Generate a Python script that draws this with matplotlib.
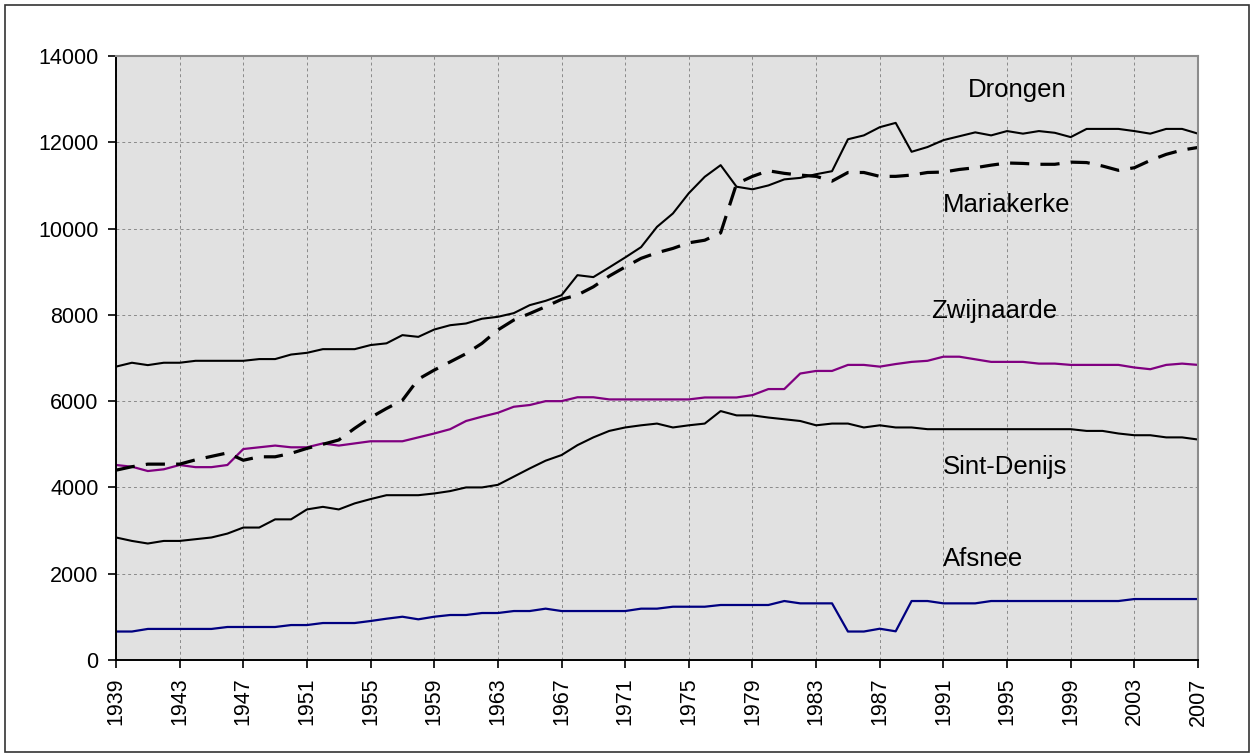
import matplotlib.pyplot as plt
from matplotlib.patches import Rectangle

plt.rcParams['font.family'] = ['Liberation Sans', 'DejaVu Sans']

years = list(range(1939, 2008))

drongen = [6800, 6890, 6835, 6890, 6890, 6935, 6935, 6935, 6935, 6975,
           6975, 7080, 7120, 7205, 7205, 7205, 7300, 7340, 7530, 7490,
           7660, 7760, 7800, 7910, 7955, 8040, 8225, 8325, 8455, 8920,
           8875, 9100, 9330, 9570, 10040, 10350, 10820, 11200, 11470, 10970,
           10910, 11000, 11140, 11175, 11260, 11330, 12070, 12160, 12350, 12450,
           11780, 11890, 12050, 12140, 12230, 12160, 12260, 12200, 12260, 12220,
           12120, 12310, 12310, 12310, 12260, 12200, 12310, 12310, 12200]

mariakerke = [4400, 4480, 4540, 4540, 4540, 4640, 4720, 4800, 4630, 4710,
              4710, 4790, 4905, 5000, 5100, 5370, 5620, 5830, 6020, 6510,
              6720, 6910, 7100, 7340, 7650, 7880, 8030, 8190, 8360, 8460,
              8650, 8900, 9110, 9310, 9440, 9540, 9670, 9730, 9900, 11040,
              11210, 11340, 11280, 11240, 11210, 11100, 11300, 11300, 11210, 11210,
              11240, 11300, 11310, 11370, 11410, 11470, 11520, 11510, 11490, 11490,
              11540, 11530, 11450, 11350, 11410, 11580, 11720, 11820, 11880]

zwijnaarde = [4520, 4480, 4380, 4420, 4520, 4470, 4470, 4520, 4890, 4930,
              4970, 4930, 4930, 5020, 4970, 5020, 5070, 5070, 5070, 5160,
              5250, 5350, 5540, 5640, 5730, 5870, 5910, 6000, 6000, 6090,
              6090, 6040, 6040, 6040, 6040, 6040, 6040, 6085, 6085, 6085,
              6140, 6280, 6280, 6640, 6700, 6700, 6840, 6840, 6800, 6860,
              6910, 6935, 7030, 7030, 6970, 6910, 6910, 6910, 6870, 6870,
              6840, 6840, 6840, 6840, 6780, 6740, 6840, 6870, 6840]

sint_denijs = [2840, 2760, 2700, 2760, 2760, 2800, 2840, 2930, 3070, 3070,
               3260, 3260, 3490, 3550, 3490, 3630, 3730, 3820, 3820, 3820,
               3860, 3915, 4000, 4000, 4060, 4250, 4440, 4620, 4750, 4980,
               5160, 5310, 5390, 5440, 5480, 5390, 5440, 5480, 5770, 5670,
               5670, 5620, 5580, 5540, 5440, 5480, 5480, 5390, 5440, 5390,
               5390, 5350, 5350, 5350, 5350, 5350, 5350, 5350, 5350, 5350,
               5350, 5310, 5310, 5250, 5210, 5210, 5160, 5160, 5110]

afsnee = [660, 660, 720, 720, 720, 720, 720, 765, 765, 765,
          765, 810, 810, 857, 857, 857, 904, 957, 1003, 943,
          1003, 1043, 1043, 1089, 1089, 1135, 1135, 1190, 1135, 1135,
          1135, 1135, 1135, 1190, 1190, 1235, 1235, 1235, 1275, 1275,
          1275, 1275, 1367, 1313, 1313, 1313, 660, 660, 725, 665,
          1367, 1367, 1313, 1313, 1313, 1367, 1367, 1367, 1367, 1367,
          1367, 1367, 1367, 1367, 1413, 1413, 1413, 1413, 1413]

x_ticks = list(range(1939, 2008, 4))
y_ticks = list(range(0, 14001, 2000))

fig = plt.figure(figsize=(12.57, 7.55), dpi=100)
ax = fig.add_axes([116 / 1257, 1 - 660 / 755, (1198 - 116) / 1257, (660 - 56) / 755])
ax.set_facecolor('#e1e1e1')

# rand rond de hele figuur
fig.patches.append(Rectangle((5 / 1257, 3 / 755), 1244 / 1257, 747 / 755,
                             transform=fig.transFigure, fill=False,
                             edgecolor='#333333', lw=1.2))

ax.plot(years, afsnee, color='#000080', lw=1.6)
ax.plot(years, sint_denijs, color='black', lw=1.5)
ax.plot(years, zwijnaarde, color='#800080', lw=1.6)
ax.plot(years, drongen, color='black', lw=1.5)
ax.plot(years, mariakerke, color='black', lw=2.3, dashes=(6, 3.5))

ax.set_xlim(1939, 2007)
ax.set_ylim(0, 14000)
ax.set_xticks(x_ticks)
ax.set_yticks(y_ticks)
ax.set_xticklabels([str(y) for y in x_ticks], rotation=90)
ax.tick_params(axis='both', labelsize=15.5, length=6, width=1.2, direction='out', pad=6.5)
ax.grid(True, color='#8a8a8a', ls=(0, (3, 3)), lw=0.7)
ax.set_axisbelow(True)

for side in ['top', 'right']:
    ax.spines[side].set_color('#8c8c8c')
    ax.spines[side].set_linewidth(1.5)
for side in ['left', 'bottom']:
    ax.spines[side].set_color('black')
    ax.spines[side].set_linewidth(1.4)

label_kw = dict(fontsize=18.5, va='center', ha='left')
ax.text(1992.55, 13207, 'Drongen', **label_kw)
ax.text(1990.95, 10540, 'Mariakerke', **label_kw)
ax.text(1990.2, 8086, 'Zwijnaarde', **label_kw)
ax.text(1990.95, 4472, 'Sint-Denijs', **label_kw)
ax.text(1990.95, 2340, 'Afsnee', **label_kw)

fig.savefig('out.png', dpi=100)
